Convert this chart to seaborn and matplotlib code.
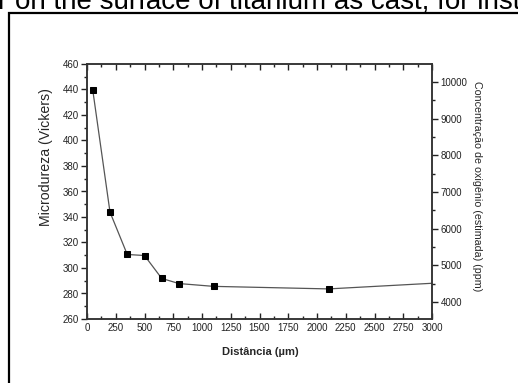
import matplotlib
matplotlib.use("Agg")
import matplotlib.pyplot as plt
import seaborn as sns
import pandas as pd
from matplotlib.ticker import MultipleLocator
from matplotlib.patches import Rectangle

distance = [50, 200, 350, 500, 650, 800, 1100, 2100]
hardness = [439.6, 343.8, 310.6, 309.8, 291.8, 287.8, 285.6, 283.6]
# continuation of the curve beyond the visible x range (clipped at the axis edge)
tail_distance = [2100, 3200]
tail_hardness = [283.6, 289.0]

x_ticks = [0, 250, 500, 750, 1000, 1250, 1500, 1750, 2000, 2250, 2500, 2750, 3000]
y_ticks = [260, 280, 300, 320, 340, 360, 380, 400, 420, 440, 460]
o2_ticks = [4000, 5000, 6000, 7000, 8000, 9000, 10000]

sns.set_style("ticks")
plt.rcParams["font.family"] = ["Liberation Sans", "DejaVu Sans"]

fig = plt.figure(figsize=(5.18, 3.83), dpi=100)
ax = fig.add_axes([87/518, 1-319/383, (432-87)/518, (319-64)/383])

df = pd.DataFrame({"d": distance, "h": hardness})
tail = pd.DataFrame({"d": tail_distance, "h": tail_hardness})
sns.lineplot(data=tail, x="d", y="h", ax=ax, color="#555555", linewidth=0.9)
sns.lineplot(data=df, x="d", y="h", ax=ax, color="#555555", linewidth=0.9,
             marker="s", markersize=4, markerfacecolor="black",
             markeredgecolor="black")

ax.set_xlim(0, 3000)
ax.set_ylim(260, 460)
ax.set_xticks(x_ticks)
ax.set_yticks(y_ticks)
ax.xaxis.set_minor_locator(MultipleLocator(125))
ax.yaxis.set_minor_locator(MultipleLocator(10))
ax.tick_params(axis="x", which="both", direction="in", top=True, bottom=True,
               labelsize=7, pad=3, colors="#222222")
ax.tick_params(axis="y", which="both", direction="out", left=True, right=False,
               labelsize=7, pad=2, colors="#222222")
ax.tick_params(which="major", length=4, width=1)
ax.tick_params(which="minor", length=2.2, width=1)
for s in ax.spines.values():
    s.set_linewidth(1.1)
    s.set_color("#333333")
ax.set_xlabel("Distância (µm)", fontsize=8, fontweight="bold")
ax.xaxis.label.set_va("center")
ax.xaxis.set_label_coords(0.5014, (319 - 352) / 255)
ax.set_ylabel("Microdureza (Vickers)", fontsize=10.2)
ax.yaxis.label.set_va("center")
ax.yaxis.set_label_coords((46 - 87) / 345, (319 - 157) / 255)

ax2 = ax.twinx()
ax2.set_ylim(3536, 10491)
ax2.set_yticks(o2_ticks)
ax2.yaxis.set_minor_locator(MultipleLocator(500))
ax2.tick_params(axis="y", which="both", direction="out", labelsize=7, pad=2,
                colors="#222222")
ax2.tick_params(which="major", length=4, width=1)
ax2.tick_params(which="minor", length=2.2, width=1)
for s in ax2.spines.values():
    s.set_linewidth(1.1)
    s.set_color("#333333")
ax2.set_ylabel("Concentração de oxigênio (estimada) (ppm)", fontsize=7.7,
               rotation=-90)
ax2.yaxis.label.set_va("center")
ax2.yaxis.set_label_coords((477 - 87) / 345, (319 - 186) / 255)

# document frame and cut-off caption text of the source page
fig.patches.append(Rectangle((9/518, -0.2), 1.2, 1.2 - 13/383,
                             transform=fig.transFigure, fill=False,
                             edgecolor="black", linewidth=1.6))
fig.text(-2/518, 1 - 9/383, "r on the surface of titanium as cast, for instance",
         fontsize=20, ha="left", va="baseline", color="black")

fig.savefig("out.png", dpi=100)
